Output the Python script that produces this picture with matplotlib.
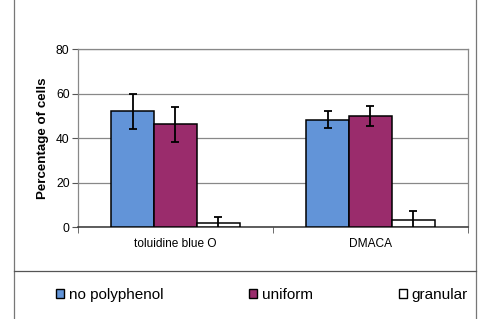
import numpy as np
import matplotlib.pyplot as plt
from matplotlib.patches import Patch
from matplotlib.lines import Line2D

plt.rcParams['font.family'] = ['Liberation Sans', 'DejaVu Sans']

# data
stains = ['toluidine blue O', 'DMACA']
series = ['no polyphenol', 'uniform', 'granular']
values = {
    'no polyphenol': [52.0, 48.3],
    'uniform': [46.2, 49.8],
    'granular': [1.9, 3.0],
}
errors = {
    'no polyphenol': [8.0, 3.8],
    'uniform': [8.0, 4.5],
    'granular': [2.6, 4.2],
}
colors = {'no polyphenol': '#6294d8', 'uniform': '#9a2c6c', 'granular': 'white'}
yticks = [0, 20, 40, 60, 80]

fig = plt.figure(figsize=(4.78, 3.19), dpi=100)
ax = fig.add_axes([0.163, 0.288, 0.816, 0.558])

x = np.arange(len(stains))
w = 0.22
for k, s in enumerate(series):
    ax.bar(x + (k - 1) * w, values[s], w, color=colors[s], edgecolor='black',
           linewidth=1.1, zorder=3)
    ax.errorbar(x + (k - 1) * w, values[s], yerr=errors[s], fmt='none',
                ecolor='black', elinewidth=1.3, capsize=3, capthick=1.3, zorder=4)

ax.set_xlim(-0.5, len(stains) - 0.5)
ax.set_ylim(0, 80)
ax.set_yticks(yticks)
ax.yaxis.grid(True, color='#888888', linewidth=0.9, zorder=0)
ax.set_xticks(x)
ax.set_xticklabels(stains, fontsize=8.6)
ax.set_xticks(np.arange(len(stains) + 1) - 0.5, minor=True)
ax.tick_params(axis='x', which='major', length=0, pad=8)
ax.tick_params(axis='x', which='minor', length=4, color='#555555', direction='out')
ax.tick_params(axis='y', labelsize=8.7, length=4, color='#555555', pad=2)
ax.set_ylabel('Percentage of cells', fontsize=9.6, fontweight='bold', labelpad=5)
for sp in ['top', 'right', 'left']:
    ax.spines[sp].set_color('#888888')
    ax.spines[sp].set_linewidth(0.9)
ax.spines['bottom'].set_color('#333333')
ax.spines['bottom'].set_linewidth(1.1)

# outer frame and divider line
fx0, fx1 = 14 / 478, 476 / 478
fig.add_artist(Line2D([fx0, fx0], [0, 1], color='#777777', lw=0.9))
fig.add_artist(Line2D([fx1, fx1], [0, 1], color='#777777', lw=0.9))
fig.add_artist(Line2D([fx0, fx1], [1 - 271 / 319] * 2, color='#555555', lw=0.9))

handles = [Patch(facecolor=colors[s], edgecolor='black', linewidth=1.0) for s in series]
fig.legend(handles, series, ncol=3, loc='center', bbox_to_anchor=(0.548, 1 - 295 / 319),
           frameon=False, fontsize=11, handlelength=0.55, handleheight=0.55,
           handletextpad=0.3, columnspacing=5.6)

fig.savefig('out.png', dpi=100)
